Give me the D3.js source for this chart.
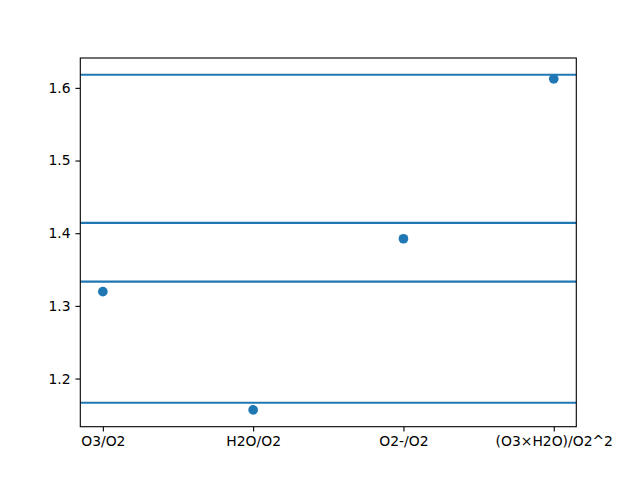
<!DOCTYPE html>
<html><head><meta charset="utf-8">
<script src="https://cdn.jsdelivr.net/npm/d3@7"></script>
<style>body{margin:0;background:#fff}svg{display:block}text{font-family:"DejaVu Sans",sans-serif}</style>
</head><body>
<svg id="c" width="640" height="480"></svg>
<script>
const categories = ["O3/O2", "H2O/O2", "O2-/O2", "(O3×H2O)/O2^2"];
const values = [1.3196, 1.1568, 1.3924, 1.6124];
const refLines = [1.618034, 1.414214, 1.333333, 1.166667];
const yTicks = [1.2, 1.3, 1.4, 1.5, 1.6];

const svg = d3.select("#c");
const L = 80.3, R = 576.3, T = 58, B = 426.7;
const color = "#1f77b4";

const all = values.concat(refLines);
const lo = d3.min(all), hi = d3.max(all), pad = (hi - lo) * 0.05;
const y = d3.scaleLinear().domain([lo - pad, hi + pad]).range([B, T]);
const x = d3.scaleLinear().domain([-0.15, categories.length - 1 + 0.15]).range([L, R]);

// reference lines
svg.append("g").selectAll("line").data(refLines).join("line")
  .attr("x1", L).attr("x2", R)
  .attr("y1", d => y(d)).attr("y2", d => y(d))
  .attr("stroke", color).attr("stroke-width", 2.08);

// points
svg.append("g").selectAll("circle").data(values).join("circle")
  .attr("cx", (d, i) => x(i)).attr("cy", d => y(d)).attr("r", 4.85)
  .attr("fill", color);

// axes
const yAxis = d3.axisLeft(y).tickValues(yTicks).tickFormat(d3.format(".1f")).tickSize(4.86).tickPadding(4.9);
const gy = svg.append("g").attr("transform", `translate(${L},0)`).call(yAxis);
const xAxis = d3.axisBottom(x).tickValues(d3.range(categories.length)).tickFormat(i => categories[i]).tickSize(4.86).tickPadding(4.9);
const gx = svg.append("g").attr("transform", `translate(0,${B})`).call(xAxis);
[gx, gy].forEach(g => {
  g.select(".domain").remove();
  g.selectAll("line").attr("stroke", "#000").attr("stroke-width", 1.11);
  g.selectAll("text").attr("fill", "#000").style("font-size", "13.9px").style("font-family", "'DejaVu Sans', sans-serif");
});

// frame
svg.append("rect").attr("x", L).attr("y", T).attr("width", R - L).attr("height", B - T)
  .attr("fill", "none").attr("stroke", "#000").attr("stroke-width", 1.11);
</script>
</body></html>
